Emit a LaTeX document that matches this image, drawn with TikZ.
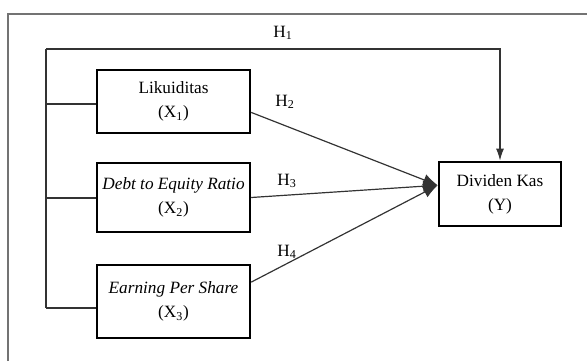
\documentclass[tikz,border=0pt]{standalone}
\usepackage{fontspec}
\setmainfont{Liberation Serif}
\usetikzlibrary{arrows.meta}

\begin{document}
\begin{tikzpicture}[x=0.0265cm, y=-0.0265cm,
  varbox/.style={draw=black, line width=2pt, fill=white, align=center,
    minimum width=4.05cm, font=\fontsize{13}{18}\selectfont},
  link/.style={draw=black!80, line width=0.9pt},
  hlabel/.style={font=\fontsize{13}{15}\selectfont}]
\useasboundingbox (0,0) rectangle (587,361);
% outer frame (cut at right and bottom)
\draw[black!55, line width=1.4pt] (8,361) -- (8,14) -- (587,14);
% variable boxes
\node[varbox, minimum height=1.67cm] (lik) at (173.5,101.5) {Likuiditas\\(X\textsubscript{1})};
\node[varbox, minimum height=1.83cm] (der) at (173.5,197.5) {\textit{Debt to Equity Ratio}\\(X\textsubscript{2})};
\node[varbox, minimum height=1.93cm] (eps) at (173.5,301.5) {\textit{Earning Per Share}\\(X\textsubscript{3})};
\node[varbox, minimum width=3.23cm, minimum height=1.70cm] (dk) at (500,194) {Dividen Kas\\(Y)};
% left bus
\coordinate (bus1) at (46,49);
\coordinate (bus2) at (46,104);
\coordinate (bus3) at (46,198);
\coordinate (bus4) at (46,308);
\draw[link] (bus1) -- (bus4);
\draw[link] (bus2) -- (bus2 -| lik.west);
\draw[link] (bus3) -- (bus3 -| der.west);
\draw[link] (bus4) -- (bus4 -| eps.west);
% simultaneous path
\draw[link, -{Latex[length=9pt, width=6pt]}] (bus1) -| (dk.north);
% partial paths
\draw[link, -{Latex[length=11pt, width=9pt]}] (lik.-8) -- (dk.172);
\draw[link, -{Latex[length=11pt, width=9pt]}] (der.east) -- (dk.172);
\draw[link, -{Latex[length=11pt, width=9pt]}] (eps.14) -- (dk.172);
% hypothesis labels
\node[hlabel] (h1) at (283,33) {H\textsubscript{1}};
\node[hlabel] (h2) at (285,102) {H\textsubscript{2}};
\node[hlabel] (h3) at (287,181) {H\textsubscript{3}};
\node[hlabel] (h4) at (287,252) {H\textsubscript{4}};
\end{tikzpicture}
\end{document}
